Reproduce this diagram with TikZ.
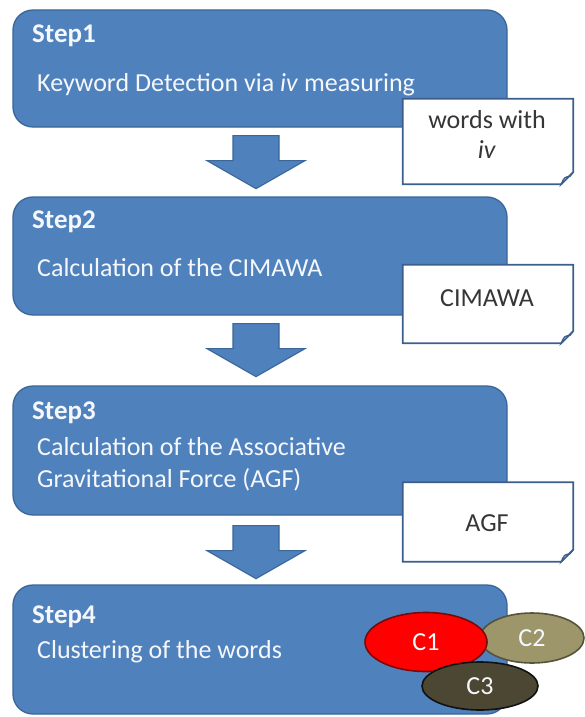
\documentclass[tikz,border=0pt]{standalone}
\usepackage{fontspec}
\setmainfont{Carlito}
\usetikzlibrary{shapes.geometric,calc}
\definecolor{boxblue}{HTML}{4F81BD}
\definecolor{boxline}{HTML}{3A6698}
\definecolor{noteline}{HTML}{3B5E8C}
\definecolor{notetext}{HTML}{363636}
\definecolor{foldfill}{HTML}{C9D6E8}
\definecolor{lighttext}{HTML}{F5F7FB}
\definecolor{cOneFill}{HTML}{FF0000}
\definecolor{cOneLine}{HTML}{7A0A0A}
\definecolor{cTwoFill}{HTML}{9C966A}
\definecolor{cTwoLine}{HTML}{55543A}
\definecolor{cThreeFill}{HTML}{4B4733}
\definecolor{cThreeLine}{HTML}{111111}
\tikzset{
  stepbox/.style={draw=boxline, line width=1.3pt, fill=boxblue, rounded corners=20pt,
    minimum width=494pt, inner sep=0pt},
  headtxt/.style={anchor=base west, inner sep=0pt, text=lighttext,
    font=\fontsize{27}{32}\selectfont\bfseries},
  bodytxt/.style={anchor=base west, inner sep=0pt, text=lighttext,
    font=\fontsize{26}{31}\selectfont},
  notebg/.style={fill=white, draw=none, minimum width=170pt, inner sep=0pt},
  noteborder/.style={draw=noteline, line width=1.8pt, line join=miter},
  notetxt/.style={anchor=base, inner sep=0pt, text=notetext,
    font=\fontsize{26}{31}\selectfont},
  blockarrow/.style={fill=boxblue, draw=boxline, line width=1.1pt, line join=miter},
  cluster/.style={ellipse, line width=1.6pt, inner sep=0pt, text=lighttext,
    font=\fontsize{26}{31}\selectfont},
  pics/downarrow/.style={code={
    \draw[blockarrow] (-23,0) -- (23,0) -- (23,25) -- (49,25) -- (0,53)
      -- (-49,25) -- (-23,25) -- cycle;}}
}
% note outline with folded lower-right corner
\newcommand\foldednote[1]{%
  \draw[noteborder] (#1.north west) -- (#1.north east)
    -- ([yshift=12pt]#1.south east) -- ([xshift=-12pt]#1.south east)
    -- (#1.south west) -- cycle;
  \draw[noteborder, line width=1.2pt, fill=foldfill]
    ([xshift=-12pt]#1.south east)
    .. controls ([xshift=-9pt,yshift=7pt]#1.south east) .. ([xshift=-3pt,yshift=8pt]#1.south east)
    -- ([yshift=12pt]#1.south east) -- cycle;
}
\begin{document}
\begin{tikzpicture}[x=1pt,y=-1pt]
\useasboundingbox (0,0) rectangle (584,717);

% step boxes
\node[stepbox, minimum height=117pt] (s1) at (260,68.5) {};
\node[stepbox, minimum height=118pt] (s2) at (260,256) {};
\node[stepbox, minimum height=129pt] (s3) at (260,450.5) {};
\node[stepbox, minimum height=129pt] (s4) at (260,649.5) {};

% step texts
\node[headtxt] (h1) at (32,43) {Step1};
\node[bodytxt] (b1) at (37,92) {Keyword Detection via \textit{iv} measuring};
\node[headtxt] (h2) at (32,228) {Step2};
\node[bodytxt] (b2) at (37,276) {Calculation of the CIMAWA};
\node[headtxt] (h3) at (32,419) {Step3};
\node[bodytxt] (b3) at (37,455) {Calculation of the Associative};
\node[bodytxt] (b3b) at (37,487) {Gravitational Force (AGF)};
\node[headtxt] (h4) at (32,623) {Step4};
\node[bodytxt] (b4) at (37,658) {Clustering of the words};

% block arrows between the steps
\pic at ($(s1.south)+(-4,8)$) {downarrow};
\pic at ($(s2.south)+(-4,8)$) {downarrow};
\pic at ($(s3.south)+(-4,10)$) {downarrow};

% output notes
\node[notebg, minimum height=85pt] (n1) at (488,141.5) {};
\foldednote{n1}
\node[notetxt] (n1a) at (487,128) {words with};
\node[notetxt] (n1b) at (487,158) {\textit{iv}};

\node[notebg, minimum height=78pt] (n2) at (488,304) {};
\foldednote{n2}
\node[notetxt] (n2a) at (487,306) {CIMAWA};

\node[notebg, minimum height=79pt] (n3) at (488,522) {};
\foldednote{n3}
\node[notetxt] (n3a) at (487,531) {AGF};

% clusters
\node[cluster, fill=cTwoFill, draw=cTwoLine, minimum width=104pt, minimum height=50pt] (c2) at (532,638) {C2};
\node[cluster, fill=cOneFill, draw=cOneLine, minimum width=122pt, minimum height=59pt] (c1) at (426,642) {C1};
\node[cluster, fill=cThreeFill, draw=cThreeLine, minimum width=116pt, minimum height=48pt] (c3) at (480,686) {C3};
\end{tikzpicture}
\end{document}
